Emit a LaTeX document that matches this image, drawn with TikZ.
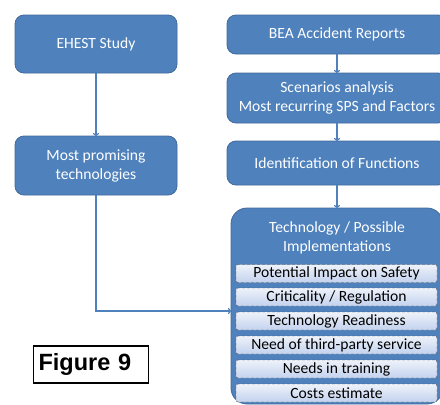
\documentclass[tikz,border=0pt]{standalone}
\usepackage{fontspec}
\setmainfont{Carlito}
\newfontfamily\labelfont{Liberation Sans}
\usetikzlibrary{arrows.meta}

\definecolor{boxblue}{HTML}{4F81BD}
\definecolor{boxedge}{HTML}{41699A}
\definecolor{bartop}{HTML}{EEF2FA}
\definecolor{barbot}{HTML}{C3D2EE}

\begin{document}
\begin{tikzpicture}[x=1pt, y=-1pt, font=\fontsize{15.6}{19}\selectfont]
  % Styles
  \tikzstyle{block}=[rectangle, draw=boxedge, fill=boxblue, text=white, align=center, rounded corners=9pt, minimum width=162pt, line width=0.8pt, outer sep=0pt]
  \tikzstyle{bigblock}=[block, rounded corners=16pt, minimum width=212pt, minimum height=196pt]
  \tikzstyle{item}=[rectangle, draw=black!70, densely dashed, line width=0.4pt, top color=bartop, bottom color=barbot, rounded corners=2pt, minimum width=201pt, minimum height=18pt, inner sep=0pt, text=black, outer sep=0pt]
  \tikzstyle{arrow}=[-{To[length=3pt, width=6pt]}, draw=boxblue, line width=1.2pt]

  \useasboundingbox (0,0) rectangle (440,405);

  % Left column
  \node[block, minimum height=58pt] (ehest) at (96, 44) {EHEST Study};
  \node[block, minimum height=59pt] (prom) at (96, 165.5) {Most promising\\technologies};

  % Right column
  \node[block, minimum width=220pt, minimum height=39pt] (bea) at (337, 34.5) {BEA Accident Reports};
  \node[block, minimum width=220pt, minimum height=50pt] (scen) at (337, 98) {Scenarios analysis\\Most recurring SPS and Factors};
  \node[block, minimum width=220pt, minimum height=44pt] (ident) at (337, 163) {Identification of Functions};

  % Technology box with its criteria
  \node[bigblock] (tech) at (337, 306) {};
  \node[text=white, align=center] (techtitle) at (337, 237.5) {Technology / Possible\\Implementations};
  \node[item] (safety) at (336.5, 273.5) {Potential Impact on Safety};
  \node[item] (regul) at (336.5, 297) {Criticality / Regulation};
  \node[item] (ready) at (336.5, 321) {Technology Readiness};
  \node[item] (third) at (336.5, 345) {Need of third-party service};
  \node[item] (train) at (336.5, 369) {Needs in training};
  \node[item] (costs) at (336.5, 393) {Costs estimate};

  % Arrows
  \draw[arrow] (ehest) -- (prom);
  \draw[arrow] (bea) -- (scen);
  \draw[arrow] (scen) -- (ident);
  \draw[arrow] (ident) -- (tech);
  \draw[arrow] (prom.south) |- ([yshift=-5pt]tech.west);

  % Caption box
  \node[draw=black, line width=1.2pt, anchor=west, text width=105pt, align=left, minimum height=37pt, inner xsep=5pt,
        font=\labelfont\bfseries\fontsize{23.5}{25}\selectfont] (fig) at (33, 364.5) {Figure 9};
\end{tikzpicture}
\end{document}
